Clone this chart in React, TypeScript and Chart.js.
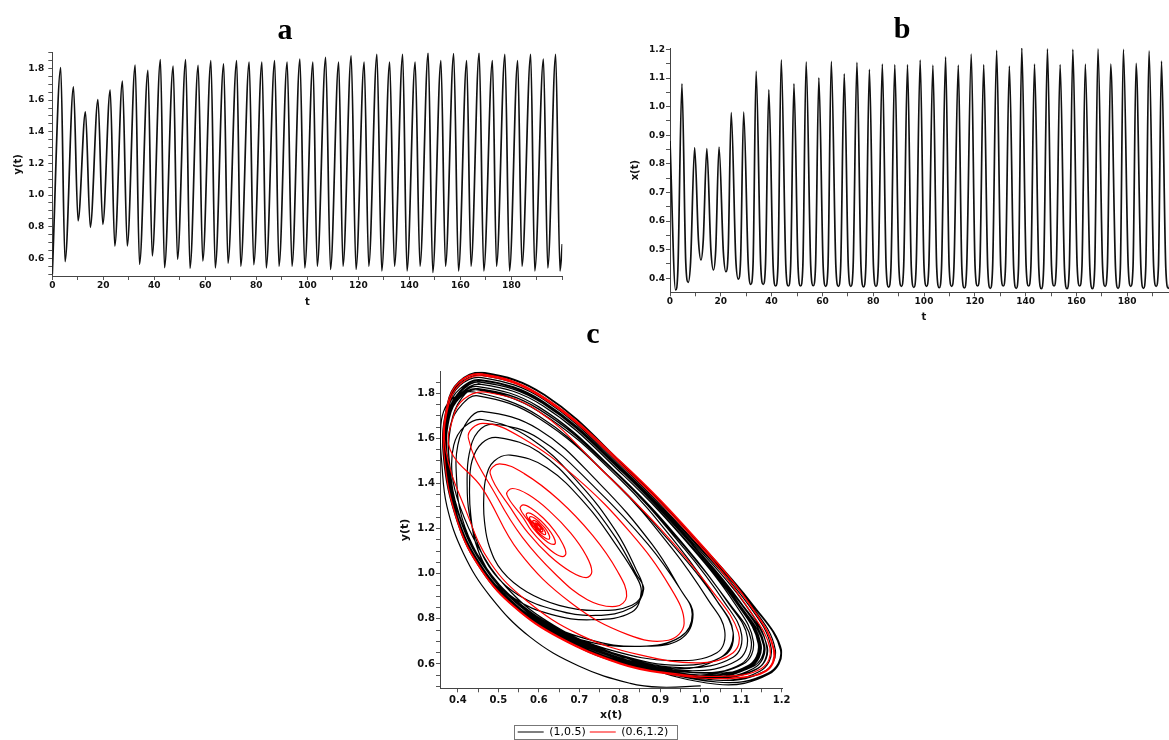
import React, { useEffect, useRef } from 'react';
import { Chart, registerables } from 'chart.js';

Chart.register(...registerables);

// ---------------- Panel a : y(t) ----------------
const aStart: [number, number] = [0, 0.5];
const aPeakT = [3.3, 8.3, 13.0, 17.9, 22.7, 27.5, 32.5, 37.5, 42.4, 47.4, 52.3, 57.2, 62.2, 67.2, 72.3, 77.2, 82.2, 87.2, 92.1, 97.1, 102.2, 107.2, 112.3, 117.2, 122.3, 127.3, 132.3, 137.4, 142.3, 147.4, 152.4, 157.4, 162.5, 167.4, 172.6, 177.5, 182.5, 187.6, 192.6, 197.4];
const aPeakY = [1.806, 1.684, 1.526, 1.604, 1.663, 1.72, 1.821, 1.789, 1.857, 1.815, 1.857, 1.82, 1.85, 1.83, 1.85, 1.84, 1.84, 1.85, 1.84, 1.86, 1.84, 1.87, 1.84, 1.88, 1.84, 1.89, 1.84, 1.89, 1.84, 1.9, 1.85, 1.895, 1.85, 1.9, 1.85, 1.89, 1.85, 1.89, 1.86, 1.89];
const aTroughT = [5.0, 10.1, 14.9, 19.8, 24.5, 29.4, 34.2, 39.2, 44.0, 49.1, 54.0, 59.0, 63.9, 68.9, 73.9, 79.0, 83.9, 88.9, 94.0, 99.0, 103.9, 109.1, 114.0, 119.1, 124.1, 129.2, 134.2, 139.1, 144.2, 149.2, 154.2, 159.3, 164.2, 169.2, 174.2, 179.3, 184.2, 189.2, 194.3, 199.1];
const aTroughY = [0.579, 0.837, 0.796, 0.815, 0.678, 0.678, 0.563, 0.615, 0.541, 0.594, 0.537, 0.583, 0.54, 0.57, 0.55, 0.56, 0.54, 0.55, 0.55, 0.54, 0.55, 0.53, 0.55, 0.53, 0.55, 0.52, 0.55, 0.52, 0.55, 0.51, 0.55, 0.52, 0.55, 0.52, 0.55, 0.52, 0.55, 0.52, 0.54, 0.52];
const aEnd: [number, number] = [200, 0.69];

// ---------------- Panel b : x(t) ----------------
const bStart: [number, number] = [0, 0.88];
const bTroughT = [2.2, 7.2, 12.2, 17.1, 22.0, 26.9, 31.8, 36.7, 41.6, 46.6, 51.4, 56.4, 61.3, 66.3, 71.2, 76.2, 81.1, 86.1, 91.1, 96.0, 101.0, 106.0, 110.9, 115.9, 121.1, 126.1, 131.2, 136.3, 141.2, 146.2, 151.2, 156.3, 161.3, 166.3, 171.3, 176.4, 181.4, 186.4, 191.4, 196.2];
const bTroughX = [0.359, 0.386, 0.464, 0.429, 0.423, 0.397, 0.379, 0.379, 0.373, 0.373, 0.373, 0.374, 0.372, 0.372, 0.372, 0.37, 0.372, 0.369, 0.372, 0.368, 0.372, 0.367, 0.372, 0.366, 0.373, 0.365, 0.373, 0.365, 0.373, 0.364, 0.373, 0.364, 0.373, 0.364, 0.372, 0.365, 0.372, 0.365, 0.372, 0.365];
// the rounded bottoms: level of the curve about one time unit either side of each trough
const bLeftShoulderT = [6.2, 11.2, 16.1, 21.0, 25.9, 30.8, 35.7, 40.6, 45.6, 50.4, 55.4, 60.3, 65.3, 70.2, 75.2, 80.1, 85.1, 90.1, 95.0, 100.0, 105.0, 109.9, 114.9, 120.1, 125.1, 130.2, 135.3, 140.2, 145.2, 150.2, 155.3, 160.3, 165.3, 170.3, 175.4, 180.4, 185.4, 190.4, 195.2];
const bLeftShoulderX = [0.456, 0.534, 0.499, 0.493, 0.467, 0.449, 0.449, 0.443, 0.443, 0.443, 0.444, 0.442, 0.442, 0.442, 0.44, 0.442, 0.439, 0.442, 0.438, 0.442, 0.437, 0.442, 0.436, 0.443, 0.435, 0.443, 0.435, 0.443, 0.434, 0.443, 0.434, 0.443, 0.434, 0.442, 0.435, 0.442, 0.435, 0.442, 0.435];
const bRightShoulderT = [3.1, 8.1, 13.1, 18.0, 22.9, 27.8, 32.7, 37.6, 42.5, 47.5, 52.3, 57.3, 62.2, 67.2, 72.1, 77.1, 82.0, 87.0, 92.0, 96.9, 101.9, 106.9, 111.8, 116.8, 122.0, 127.0, 132.1, 137.2, 142.1, 147.1, 152.1, 157.2, 162.2, 167.2, 172.2, 177.3, 182.3, 187.3, 192.3, 197.1];
const bRightShoulderX = [0.429, 0.456, 0.534, 0.499, 0.493, 0.467, 0.449, 0.449, 0.443, 0.443, 0.443, 0.444, 0.442, 0.442, 0.442, 0.44, 0.442, 0.439, 0.442, 0.438, 0.442, 0.437, 0.442, 0.436, 0.443, 0.435, 0.443, 0.435, 0.443, 0.434, 0.443, 0.434, 0.443, 0.434, 0.442, 0.435, 0.442, 0.435, 0.442, 0.435];
const bPeakT = [4.7, 9.7, 14.5, 19.3, 24.1, 29.0, 33.9, 38.9, 43.8, 48.8, 53.6, 58.6, 63.5, 68.6, 73.6, 78.5, 83.6, 88.5, 93.5, 98.5, 103.5, 108.5, 113.5, 118.6, 123.5, 128.6, 133.6, 138.5, 143.5, 148.6, 153.6, 158.6, 163.5, 168.5, 173.5, 178.5, 183.5, 188.6, 193.5];
const bPeakX = [1.08, 0.857, 0.853, 0.859, 0.979, 0.981, 1.124, 1.059, 1.164, 1.08, 1.157, 1.101, 1.158, 1.115, 1.155, 1.13, 1.149, 1.147, 1.147, 1.163, 1.145, 1.174, 1.145, 1.184, 1.147, 1.197, 1.142, 1.205, 1.149, 1.202, 1.147, 1.2, 1.149, 1.202, 1.149, 1.2, 1.151, 1.195, 1.159];
const bEnd: [number, number] = [198.5, 1.19];

// ---------------- Panel c : phase portrait ----------------
type P = [number, number];
const blackStart: P[] = [[1.0, 0.503], [0.9, 0.497], [0.826, 0.514], [0.7, 0.59], [0.578, 0.72], [0.48, 0.9], [0.414, 1.09], [0.373, 1.3], [0.36, 1.5]];
const blackTransient: P[] = [
  [0.357, 1.62], [0.365, 1.72], [0.39, 1.78], [0.44, 1.806], [0.6, 1.7], [0.78, 1.42], [0.93, 1.13], [1.04, 0.88], [1.08, 0.74], [1.05, 0.63], [0.93, 0.579],
  [0.76, 0.665], [0.62, 0.79], [0.52, 0.94], [0.45, 1.12], [0.405, 1.3], [0.386, 1.44], [0.39, 1.57], [0.415, 1.65], [0.46, 1.684], [0.58, 1.6], [0.7, 1.4], [0.79, 1.19], [0.84, 1.02], [0.857, 0.93], [0.83, 0.86], [0.74, 0.837],
  [0.65, 0.86], [0.57, 0.92], [0.51, 1.01], [0.478, 1.12], [0.466, 1.23], [0.464, 1.33], [0.47, 1.43], [0.49, 1.5], [0.53, 1.526], [0.62, 1.47], [0.72, 1.3], [0.79, 1.13], [0.84, 0.99], [0.853, 0.92], [0.83, 0.83], [0.73, 0.796],
  [0.63, 0.82], [0.54, 0.89], [0.48, 1.0], [0.445, 1.13], [0.432, 1.26], [0.429, 1.38], [0.435, 1.5], [0.46, 1.58], [0.5, 1.604], [0.6, 1.54], [0.71, 1.35], [0.79, 1.16], [0.84, 1.0], [0.859, 0.93], [0.83, 0.85], [0.74, 0.815],
  [0.64, 0.84], [0.55, 0.905], [0.49, 1.0], [0.45, 1.13], [0.428, 1.27], [0.423, 1.4], [0.428, 1.53], [0.45, 1.63], [0.49, 1.663], [0.6, 1.6], [0.74, 1.38], [0.87, 1.13], [0.95, 0.93], [0.979, 0.82], [0.95, 0.72], [0.85, 0.678],
  [0.72, 0.71], [0.6, 0.8], [0.51, 0.93], [0.45, 1.08], [0.41, 1.25], [0.397, 1.42], [0.4, 1.57], [0.425, 1.68], [0.46, 1.72], [0.6, 1.64], [0.75, 1.4], [0.88, 1.13], [0.95, 0.93], [0.981, 0.82], [0.95, 0.71], [0.85, 0.678],
  [0.72, 0.7], [0.6, 0.79], [0.51, 0.92], [0.445, 1.07], [0.4, 1.25], [0.379, 1.48], [0.383, 1.66], [0.41, 1.78], [0.45, 1.821], [0.6, 1.73], [0.8, 1.43], [0.96, 1.12], [1.07, 0.87], [1.124, 0.71], [1.1, 0.6], [0.98, 0.563],
  [0.8, 0.635], [0.65, 0.745], [0.545, 0.875], [0.465, 1.035], [0.405, 1.25], [0.379, 1.5], [0.382, 1.66], [0.41, 1.75], [0.45, 1.789], [0.6, 1.69], [0.79, 1.4], [0.93, 1.11], [1.02, 0.88], [1.059, 0.75], [1.04, 0.65], [0.93, 0.615],
  [0.78, 0.66], [0.65, 0.755], [0.545, 0.88], [0.465, 1.035], [0.405, 1.25], [0.373, 1.52], [0.378, 1.7], [0.405, 1.81], [0.455, 1.857], [0.61, 1.76], [0.81, 1.45], [0.98, 1.13], [1.1, 0.87], [1.164, 0.68], [1.14, 0.58], [1.01, 0.541],
  [0.8, 0.625], [0.65, 0.74], [0.545, 0.875], [0.465, 1.035], [0.405, 1.25], [0.373, 1.52], [0.378, 1.69], [0.405, 1.78], [0.45, 1.815], [0.6, 1.72], [0.8, 1.42], [0.95, 1.11], [1.04, 0.88], [1.08, 0.74], [1.06, 0.64], [0.95, 0.594],
  [0.8, 0.64], [0.65, 0.75], [0.545, 0.88], [0.465, 1.035], [0.405, 1.25], [0.373, 1.52], [0.378, 1.71], [0.405, 1.81], [0.455, 1.857], [0.61, 1.76], [0.81, 1.45], [0.98, 1.13], [1.1, 0.87], [1.157, 0.68], [1.13, 0.58], [1.01, 0.537],
  [0.8, 0.62], [0.65, 0.735], [0.545, 0.87], [0.465, 1.03], [0.405, 1.25], [0.374, 1.52], [0.379, 1.69], [0.405, 1.785], [0.45, 1.82], [0.6, 1.73], [0.8, 1.43], [0.96, 1.11], [1.06, 0.87], [1.101, 0.73], [1.08, 0.63], [0.96, 0.583],
  [0.8, 0.635], [0.65, 0.745], [0.545, 0.877], [0.465, 1.035], [0.405, 1.25], [0.372, 1.53], [0.378, 1.71], [0.406, 1.805], [0.455, 1.85], [0.61, 1.755], [0.81, 1.445], [0.98, 1.125], [1.1, 0.865], [1.158, 0.68], [1.13, 0.58], [1.01, 0.54],
  [0.8, 0.622], [0.65, 0.737], [0.545, 0.872], [0.465, 1.032], [0.405, 1.25], [0.372, 1.53], [0.378, 1.7], [0.406, 1.79], [0.45, 1.83], [0.6, 1.74], [0.8, 1.435], [0.965, 1.115], [1.07, 0.865], [1.115, 0.72], [1.09, 0.615], [0.97, 0.57],
];
const blackSettled: P[] = [
  [0.8, 0.625], [0.65, 0.74], [0.545, 0.875], [0.465, 1.035], [0.405, 1.25], [0.372, 1.54], [0.38, 1.725], [0.408, 1.81], [0.458, 1.85], [0.61, 1.755], [0.81, 1.445], [0.978, 1.13], [1.095, 0.865], [1.155, 0.683], [1.128, 0.588], [1.0, 0.55],
  [0.8, 0.628], [0.65, 0.742], [0.546, 0.877], [0.466, 1.037], [0.405, 1.25], [0.37, 1.54], [0.379, 1.72], [0.407, 1.8], [0.458, 1.84], [0.61, 1.745], [0.81, 1.435], [0.975, 1.12], [1.085, 0.865], [1.13, 0.7], [1.105, 0.6], [0.99, 0.56],
  [0.8, 0.622], [0.65, 0.738], [0.545, 0.874], [0.465, 1.034], [0.405, 1.25], [0.372, 1.54], [0.38, 1.72], [0.408, 1.8], [0.458, 1.84], [0.61, 1.745], [0.81, 1.435], [0.978, 1.12], [1.095, 0.865], [1.149, 0.686], [1.122, 0.585], [1.0, 0.54],
  [0.8, 0.62], [0.65, 0.735], [0.544, 0.872], [0.464, 1.032], [0.404, 1.25], [0.369, 1.54], [0.378, 1.725], [0.407, 1.81], [0.458, 1.85], [0.61, 1.755], [0.81, 1.445], [0.978, 1.13], [1.095, 0.866], [1.147, 0.686], [1.12, 0.59], [1.0, 0.55],
  [0.8, 0.625], [0.65, 0.74], [0.545, 0.875], [0.465, 1.035], [0.405, 1.25], [0.372, 1.54], [0.38, 1.72], [0.408, 1.8], [0.458, 1.84], [0.61, 1.745], [0.81, 1.435], [0.978, 1.12], [1.095, 0.865], [1.147, 0.686], [1.12, 0.59], [1.0, 0.55],
  [0.8, 0.615], [0.65, 0.73], [0.542, 0.865], [0.462, 1.025], [0.402, 1.24], [0.368, 1.535], [0.377, 1.735], [0.405, 1.82], [0.458, 1.86], [0.612, 1.763], [0.812, 1.45], [0.984, 1.13], [1.11, 0.864], [1.163, 0.676], [1.137, 0.575], [1.015, 0.54],
  [0.8, 0.626], [0.65, 0.741], [0.545, 0.876], [0.465, 1.036], [0.405, 1.25], [0.372, 1.54], [0.38, 1.72], [0.408, 1.8], [0.458, 1.84], [0.61, 1.745], [0.81, 1.435], [0.977, 1.12], [1.093, 0.865], [1.145, 0.688], [1.118, 0.59], [1.0, 0.55],
  [0.8, 0.612], [0.65, 0.726], [0.541, 0.861], [0.461, 1.021], [0.401, 1.235], [0.367, 1.533], [0.376, 1.74], [0.405, 1.835], [0.459, 1.87], [0.613, 1.772], [0.813, 1.455], [0.986, 1.135], [1.118, 0.862], [1.174, 0.67], [1.146, 0.568], [1.025, 0.53],
  [0.8, 0.627], [0.65, 0.742], [0.546, 0.877], [0.466, 1.037], [0.406, 1.25], [0.372, 1.54], [0.38, 1.72], [0.408, 1.8], [0.458, 1.84], [0.61, 1.745], [0.81, 1.435], [0.977, 1.12], [1.093, 0.865], [1.145, 0.688], [1.118, 0.59], [1.0, 0.55],
  [0.8, 0.61], [0.65, 0.724], [0.54, 0.859], [0.46, 1.019], [0.4, 1.232], [0.366, 1.532], [0.375, 1.745], [0.404, 1.842], [0.46, 1.88], [0.614, 1.78], [0.814, 1.462], [0.988, 1.138], [1.124, 0.861], [1.184, 0.665], [1.155, 0.565], [1.03, 0.53],
  [0.8, 0.627], [0.65, 0.742], [0.546, 0.877], [0.466, 1.037], [0.406, 1.25], [0.373, 1.54], [0.381, 1.72], [0.409, 1.8], [0.458, 1.84], [0.61, 1.745], [0.81, 1.435], [0.978, 1.12], [1.095, 0.865], [1.147, 0.686], [1.12, 0.59], [1.0, 0.55],
  [0.8, 0.608], [0.65, 0.722], [0.54, 0.857], [0.46, 1.017], [0.4, 1.23], [0.365, 1.53], [0.375, 1.75], [0.404, 1.85], [0.46, 1.89], [0.615, 1.79], [0.815, 1.47], [0.99, 1.145], [1.128, 0.86], [1.197, 0.662], [1.167, 0.56], [1.038, 0.52],
  [0.8, 0.627], [0.65, 0.742], [0.546, 0.877], [0.466, 1.037], [0.406, 1.25], [0.373, 1.54], [0.381, 1.72], [0.409, 1.8], [0.458, 1.84], [0.61, 1.745], [0.81, 1.435], [0.976, 1.12], [1.09, 0.865], [1.142, 0.69], [1.116, 0.592], [0.998, 0.55],
  [0.8, 0.607], [0.65, 0.721], [0.54, 0.856], [0.46, 1.016], [0.4, 1.23], [0.365, 1.53], [0.375, 1.75], [0.404, 1.85], [0.46, 1.89], [0.615, 1.79], [0.815, 1.47], [0.99, 1.145], [1.13, 0.86], [1.2, 0.658], [1.17, 0.558], [1.04, 0.52],
  [0.8, 0.626], [0.65, 0.741], [0.546, 0.876], [0.466, 1.036], [0.406, 1.25], [0.373, 1.54], [0.381, 1.725], [0.409, 1.81], [0.458, 1.85], [0.61, 1.755], [0.81, 1.445], [0.978, 1.13], [1.095, 0.865], [1.149, 0.685], [1.122, 0.588], [1.0, 0.55],
  [0.8, 0.605], [0.65, 0.719], [0.539, 0.854], [0.459, 1.014], [0.399, 1.228], [0.364, 1.53], [0.374, 1.752], [0.403, 1.853], [0.46, 1.894], [0.615, 1.794], [0.815, 1.474], [0.99, 1.149], [1.13, 0.86], [1.199, 0.66], [1.169, 0.555], [1.04, 0.51],
  [0.8, 0.625], [0.65, 0.74], [0.546, 0.876], [0.466, 1.036], [0.406, 1.25], [0.373, 1.54], [0.381, 1.725], [0.409, 1.81], [0.458, 1.85], [0.61, 1.755], [0.81, 1.445], [0.978, 1.13], [1.095, 0.865], [1.147, 0.686], [1.12, 0.59], [1.0, 0.55],
  [0.8, 0.607], [0.65, 0.72], [0.54, 0.855], [0.46, 1.015], [0.4, 1.229], [0.364, 1.53], [0.374, 1.751], [0.403, 1.852], [0.46, 1.893], [0.615, 1.793], [0.815, 1.473], [0.99, 1.148], [1.13, 0.86], [1.198, 0.66], [1.168, 0.558], [1.04, 0.52],
  [0.8, 0.626], [0.65, 0.741], [0.546, 0.876], [0.466, 1.036], [0.406, 1.25], [0.373, 1.54], [0.381, 1.725], [0.409, 1.81], [0.458, 1.85], [0.61, 1.755], [0.81, 1.445], [0.978, 1.13], [1.095, 0.865], [1.149, 0.685], [1.122, 0.588], [1.0, 0.55],
];
const redCore: P[] = [
  [0.6, 1.2],
  [0.594, 1.217], [0.595, 1.219], [0.597, 1.217], [0.6, 1.213], [0.603, 1.207], [0.605, 1.201], [0.606, 1.197], [0.605, 1.195], [0.603, 1.197], [0.6, 1.201], [0.597, 1.207], [0.595, 1.213],
  [0.59, 1.223], [0.591, 1.226], [0.595, 1.223], [0.6, 1.216], [0.605, 1.206], [0.609, 1.196], [0.61, 1.189], [0.609, 1.186], [0.605, 1.189], [0.6, 1.196], [0.595, 1.206], [0.591, 1.216],
  [0.585, 1.233], [0.587, 1.237], [0.593, 1.233], [0.601, 1.221], [0.609, 1.205], [0.615, 1.189], [0.617, 1.177], [0.615, 1.173], [0.609, 1.177], [0.601, 1.189], [0.593, 1.205], [0.587, 1.221],
  [0.577, 1.246], [0.58, 1.253], [0.59, 1.246], [0.602, 1.228], [0.615, 1.203], [0.624, 1.178], [0.627, 1.16], [0.624, 1.153], [0.615, 1.16], [0.602, 1.178], [0.59, 1.203], [0.58, 1.228],
  [0.569, 1.261], [0.574, 1.27], [0.587, 1.261], [0.605, 1.235], [0.623, 1.2], [0.636, 1.165], [0.641, 1.139], [0.636, 1.13], [0.623, 1.139], [0.605, 1.165], [0.587, 1.2], [0.574, 1.235],
  [0.554, 1.289], [0.562, 1.305], [0.582, 1.289], [0.611, 1.247], [0.639, 1.19], [0.659, 1.133], [0.667, 1.091], [0.659, 1.076], [0.639, 1.091], [0.611, 1.133], [0.582, 1.19], [0.562, 1.247],
  [0.521, 1.351], [0.535, 1.378], [0.574, 1.351], [0.626, 1.279], [0.679, 1.18], [0.717, 1.081], [0.731, 1.009], [0.717, 0.983], [0.679, 1.009], [0.626, 1.081], [0.574, 1.18], [0.535, 1.279],
  [0.48, 1.444], [0.503, 1.487], [0.564, 1.444], [0.649, 1.328], [0.733, 1.17], [0.794, 1.012], [0.817, 0.9], [0.79, 0.855], [0.72, 0.885], [0.64, 1.0], [0.56, 1.16], [0.5, 1.33],
  [0.426, 1.602], [0.462, 1.667], [0.559, 1.602], [0.693, 1.425], [0.826, 1.183], [0.923, 0.945], [0.959, 0.78], [0.92, 0.705], [0.82, 0.73], [0.68, 0.87], [0.55, 1.1], [0.46, 1.38],
];
const redOuter: P[] = [
  [0.381, 1.55], [0.388, 1.69], [0.415, 1.775], [0.47, 1.805], [0.6, 1.72], [0.75, 1.47], [0.9, 1.2], [1.03, 0.92], [1.093, 0.74], [1.08, 0.65], [1.0, 0.605], [0.85, 0.64], [0.7, 0.73], [0.57, 0.88], [0.48, 1.05], [0.42, 1.28],
  [0.37, 1.55], [0.376, 1.74], [0.405, 1.84], [0.46, 1.878], [0.6, 1.79], [0.8, 1.49], [1.0, 1.12], [1.12, 0.84], [1.171, 0.67], [1.15, 0.58], [1.05, 0.545], [0.9, 0.565], [0.8, 0.605], [0.65, 0.72], [0.54, 0.855], [0.46, 1.015], [0.4, 1.23],
  [0.366, 1.53], [0.374, 1.75], [0.404, 1.85], [0.46, 1.884], [0.6, 1.795], [0.8, 1.5], [1.0, 1.13], [1.13, 0.84], [1.18, 0.66], [1.16, 0.57], [1.06, 0.535], [0.9, 0.56], [0.8, 0.6], [0.65, 0.715], [0.54, 0.85], [0.46, 1.01], [0.4, 1.225],
  [0.366, 1.53], [0.374, 1.75], [0.404, 1.852], [0.46, 1.886], [0.6, 1.798], [0.8, 1.502], [1.0, 1.133], [1.13, 0.842], [1.182, 0.66], [1.162, 0.568], [1.065, 0.533],
];

// ---------------- Text / tick labels ----------------
const panelTitles = ['a', 'b', 'c'];
const axisTitles = { aX: 't', aY: 'y(t)', bX: 't', bY: 'x(t)', cX: 'x(t)', cY: 'y(t)' };
const legendLabels = ['(1,0.5)', '(0.6,1.2)'];
const timeLabels = [0, 20, 40, 60, 80, 100, 120, 140, 160, 180];
const aYLabels = [0.6, 0.8, 1.0, 1.2, 1.4, 1.6, 1.8];
const bYLabels = [0.4, 0.5, 0.6, 0.7, 0.8, 0.9, 1.0, 1.1, 1.2];
const cXLabels = [0.4, 0.5, 0.6, 0.7, 0.8, 0.9, 1.0, 1.1, 1.2];
const cYLabels = [0.6, 0.8, 1.0, 1.2, 1.4, 1.6, 1.8];

function series(start: P, end: P, ...pairs: [number[], number[]][]) {
  const pts = [{ x: start[0], y: start[1] }];
  pairs.forEach(([ts, vs]) => ts.forEach((t, i) => pts.push({ x: t, y: vs[i] })));
  pts.push({ x: end[0], y: end[1] });
  return pts.sort((p, q) => p.x - q.x);
}
const toXY = (arr: P[]) => arr.map(([x, y]) => ({ x, y }));

const SANS = 'DejaVu Sans';

interface AxisCfg {
  horizontal: boolean;
  min: number;
  max: number;
  labels: number[];
  minorStep: number;
  decimals: number;
  fontSize: number;
  title: string;
  titleSize: number;
  titlePad: { top: number; bottom: number };
  tickPad: number;
  size: number | ((s: any) => number);
  padRight?: number;
}

function axis(c: AxisCfg) {
  const ticks: number[] = [];
  const lo = Math.ceil(c.min / c.minorStep - 1e-9);
  const hi = Math.floor(c.max / c.minorStep + 1e-9);
  for (let k = lo; k <= hi; k++) ticks.push(+(k * c.minorStep).toFixed(6));
  const isLabel = (v: number) => c.labels.some((l) => Math.abs(l - v) < 1e-6);
  return {
    type: 'linear',
    min: c.min,
    max: c.max,
    afterBuildTicks: (s: any) => {
      s.ticks = ticks.map((v) => ({ value: v }));
    },
    afterFit: (s: any) => {
      const sz = typeof c.size === 'function' ? c.size(s) : c.size;
      if (c.horizontal) {
        s.height = sz;
        s.paddingRight = c.padRight || 0;
      } else {
        s.width = sz;
      }
    },
    ticks: {
      autoSkip: false,
      maxRotation: 0,
      minRotation: 0,
      padding: c.tickPad,
      color: '#111',
      font: { family: SANS, size: c.fontSize, weight: 'bold' },
      callback: (v: any) => (isLabel(Number(v)) ? Number(v).toFixed(c.decimals) : ''),
    },
    grid: { display: true, drawOnChartArea: false, drawTicks: true, tickLength: 4, tickColor: '#555', tickWidth: 1 },
    border: { display: true, color: '#444', width: 1 },
    title: {
      display: true,
      text: c.title,
      color: '#111',
      font: { family: SANS, size: c.titleSize, weight: 'bold' },
      padding: c.titlePad,
    },
  };
}

function titleOpts(text: string, top: number, bottom: number) {
  return {
    display: true,
    text,
    color: '#000',
    font: { family: 'Liberation Serif', size: 30, weight: 'bold' },
    padding: { top, bottom },
  };
}

const legendFrame = {
  id: 'legendFrame',
  afterDraw(chart: any) {
    const lg = chart.legend;
    if (!lg || !lg.options.display || !lg.lineWidths) return;
    const pad = lg.options.labels.padding;
    const total = lg.lineWidths[0];
    const x0 = (lg.left + pad + lg.right - total) / 2;
    const ctx = chart.ctx;
    ctx.save();
    ctx.strokeStyle = '#777';
    ctx.lineWidth = 1;
    const l = Math.round(x0 - 4) + 0.5;
    const r = Math.round(x0 + total - pad + 9) + 0.5;
    const t = Math.round(lg.top + 2) + 0.5;
    const b = chart.height - 0.5;
    ctx.strokeRect(l, t, r - l, b - t);
    ctx.restore();
  },
};

function baseOptions(title: any, scales: any, legend: any) {
  return {
    responsive: false,
    animation: false,
    events: [],
    layout: { padding: 0 },
    elements: { point: { radius: 0 } },
    plugins: { title, legend, tooltip: { enabled: false } },
    scales,
  };
}

export default function App() {
  const aRef = useRef<HTMLCanvasElement>(null);
  const bRef = useRef<HTMLCanvasElement>(null);
  const cRef = useRef<HTMLCanvasElement>(null);

  useEffect(() => {
    const charts: Chart[] = [];

    charts.push(
      new Chart(aRef.current as HTMLCanvasElement, {
        type: 'scatter',
        data: {
          datasets: [
            {
              data: series(aStart, aEnd, [aPeakT, aPeakY], [aTroughT, aTroughY]),
              showLine: true,
              borderColor: '#111',
              borderWidth: 1.7,
              pointRadius: 0,
              cubicInterpolationMode: 'monotone',
            } as any,
          ],
        },
        options: baseOptions(
          titleOpts(panelTitles[0], 13, 3.7),
          {
            x: axis({ horizontal: true, min: 0, max: 200, labels: timeLabels, minorStep: 10, decimals: 0, fontSize: 9, title: axisTitles.aX, titleSize: 10, titlePad: { top: 0, bottom: 12 }, tickPad: 0, size: 44, padRight: 7.7 }),
            y: axis({ horizontal: false, min: 0.488, max: 1.9, labels: aYLabels, minorStep: 0.05, decimals: 1, fontSize: 9, title: axisTitles.aY, titleSize: 10, titlePad: { top: 12, bottom: 0 }, tickPad: 4, size: 52.3 }),
          },
          { display: false }
        ) as any,
      })
    );

    charts.push(
      new Chart(bRef.current as HTMLCanvasElement, {
        type: 'scatter',
        data: {
          datasets: [
            {
              data: series(bStart, bEnd, [bTroughT, bTroughX], [bLeftShoulderT, bLeftShoulderX], [bRightShoulderT, bRightShoulderX], [bPeakT, bPeakX]),
              showLine: true,
              borderColor: '#111',
              borderWidth: 1.7,
              pointRadius: 0,
              cubicInterpolationMode: 'monotone',
            } as any,
          ],
        },
        options: baseOptions(
          titleOpts(panelTitles[1], 12, 0),
          {
            x: axis({ horizontal: true, min: 0, max: 200, labels: timeLabels, minorStep: 10, decimals: 0, fontSize: 9, title: axisTitles.bX, titleSize: 10, titlePad: { top: 0, bottom: 7 }, tickPad: 0, size: 37.7, padRight: 6 }),
            y: axis({ horizontal: false, min: 0.351, max: 1.205, labels: bYLabels, minorStep: 0.05, decimals: 1, fontSize: 9, title: axisTitles.bY, titleSize: 10, titlePad: { top: 9, bottom: 0 }, tickPad: 1, size: 50 }),
          },
          { display: false }
        ) as any,
      })
    );

    charts.push(
      new Chart(cRef.current as HTMLCanvasElement, {
        type: 'scatter',
        data: {
          datasets: [
            {
              label: legendLabels[0],
              data: toXY([...blackStart, ...blackTransient, ...blackSettled]),
              showLine: true,
              borderColor: '#000',
              backgroundColor: '#000',
              borderWidth: 1.2,
              pointRadius: 0,
              tension: 0.4,
              order: 1,
            } as any,
            {
              label: legendLabels[1],
              data: toXY([...redCore, ...redOuter]),
              showLine: true,
              borderColor: '#ff0000',
              backgroundColor: '#ff0000',
              borderWidth: 1.2,
              pointRadius: 0,
              tension: 0.4,
              order: 0,
            } as any,
          ],
        },
        options: baseOptions(
          titleOpts(panelTitles[2], 3.3, 18.4),
          {
            x: axis({
              horizontal: true, min: 0.356, max: 1.2015, labels: cXLabels, minorStep: 0.05, decimals: 1, fontSize: 10,
              title: axisTitles.cX, titleSize: 11, titlePad: { top: 0, bottom: 0.9 }, tickPad: 1.7,
              size: (s: any) => 426 - (s.chart.legend ? s.chart.legend.height : 17.5) - 374.3,
              padRight: 23.7,
            }),
            y: axis({ horizontal: false, min: 0.492, max: 1.896, labels: cYLabels, minorStep: 0.05, decimals: 1, fontSize: 10, title: axisTitles.cY, titleSize: 11, titlePad: { top: 18.4, bottom: 0 }, tickPad: 1, size: 60 }),
          },
          {
            display: true,
            position: 'bottom',
            maxHeight: 17.5,
            labels: {
              usePointStyle: true,
              pointStyle: 'line',
              pointStyleWidth: 26,
              padding: 4,
              color: '#000',
              font: { family: SANS, size: 11 },
              sort: (p: any, q: any) => p.datasetIndex - q.datasetIndex,
            },
          }
        ) as any,
        plugins: [legendFrame],
      })
    );

    return () => charts.forEach((c) => c.destroy());
  }, []);

  return (
    <div style={{ position: 'fixed', left: 0, top: 0, width: 1169, height: 740, overflow: 'hidden', background: '#fff' }}>
      <canvas ref={aRef} width={570} height={320} style={{ position: 'absolute', left: 0, top: 0 }} />
      <canvas ref={bRef} width={564} height={330} style={{ position: 'absolute', left: 620, top: 0 }} />
      <canvas ref={cRef} width={426} height={426} style={{ position: 'absolute', left: 380, top: 314 }} />
    </div>
  );
}
